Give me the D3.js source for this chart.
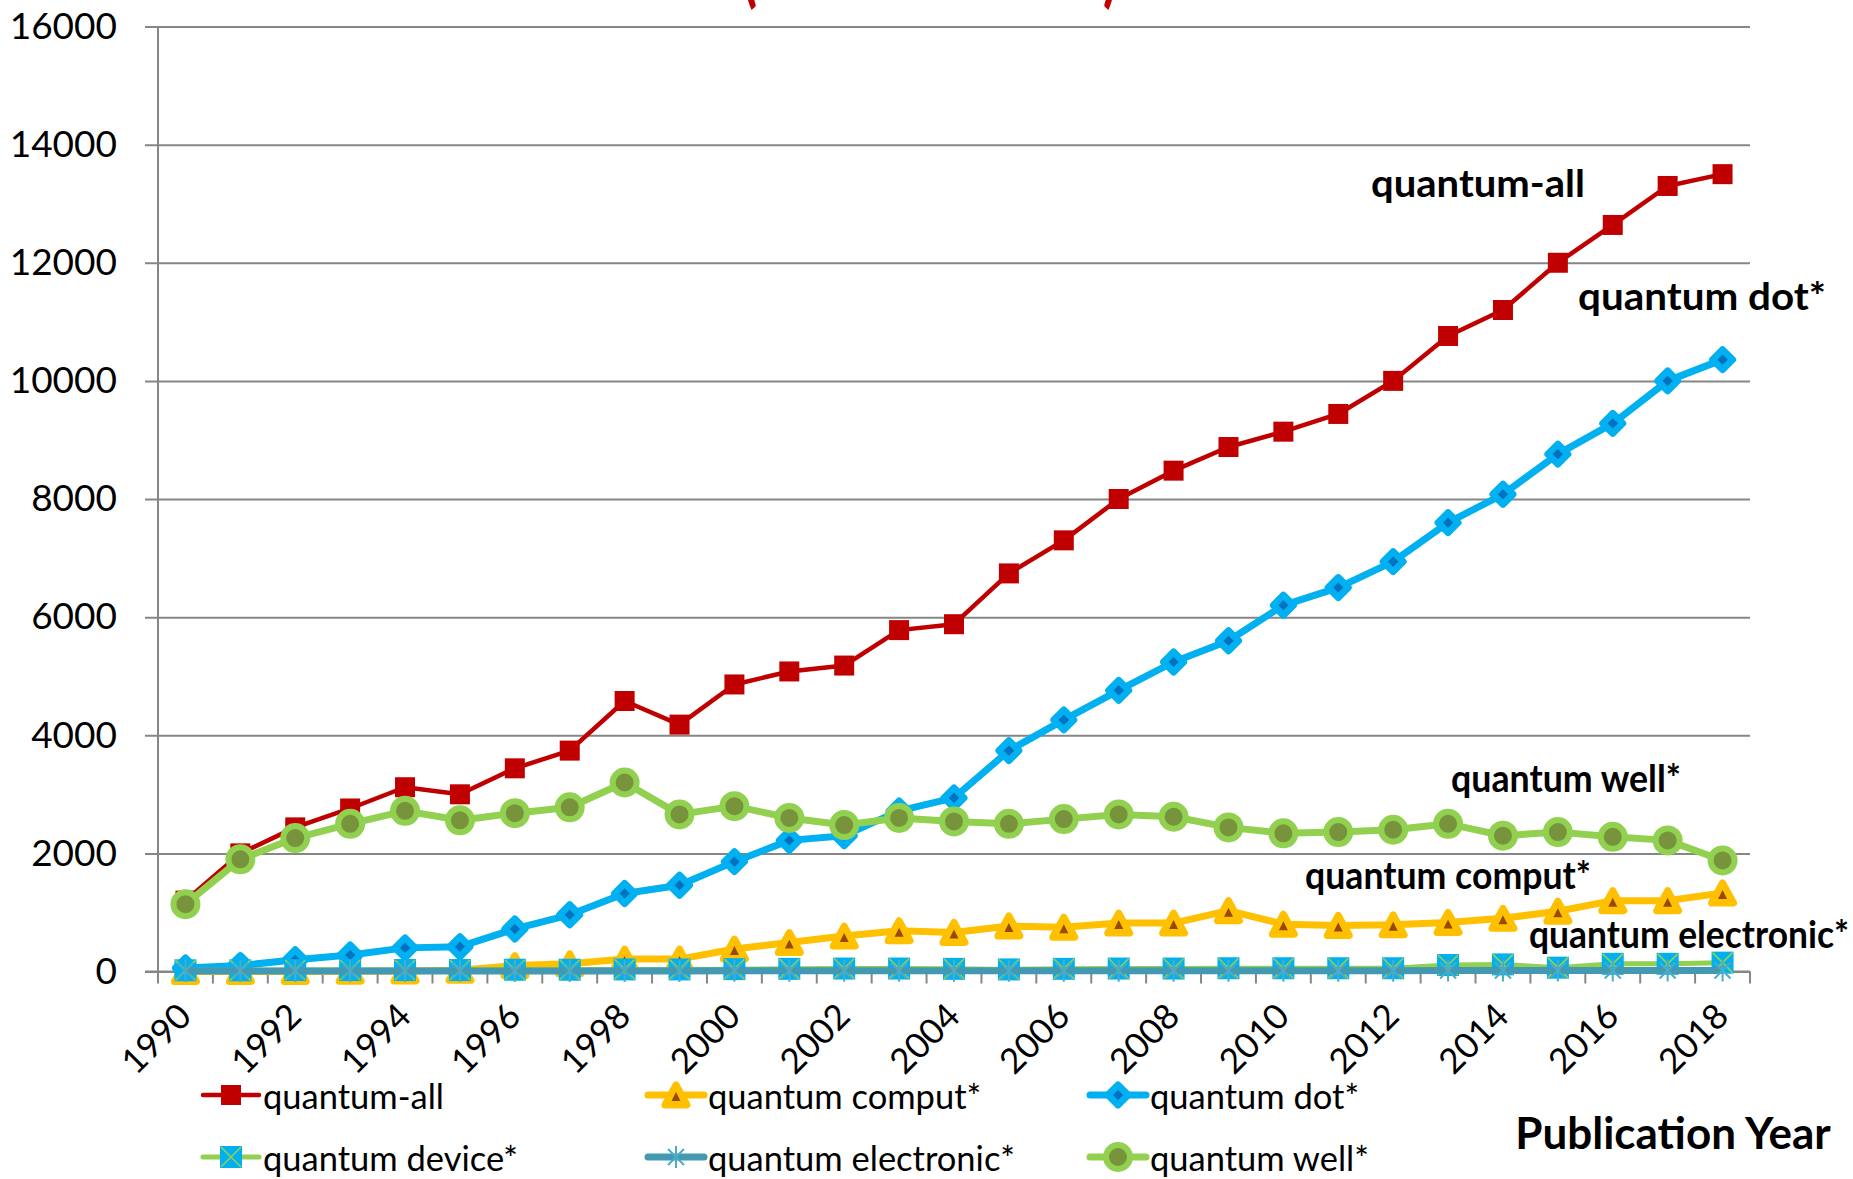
<!DOCTYPE html>
<html>
<head>
<meta charset="utf-8">
<script src="https://cdn.jsdelivr.net/npm/d3@7/dist/d3.min.js"></script>
<style>
  body { margin: 0; background: #fff; }
  svg { display: block; }
  text { font-family: Lato, "Open Sans", sans-serif; fill: #000; }
</style>
</head>
<body>
<svg id="chart" width="1853" height="1179"></svg>
<script>
// Publication counts per year for each search term
const years = [1990, 1991, 1992, 1993, 1994, 1995, 1996, 1997, 1998, 1999,
               2000, 2001, 2002, 2003, 2004, 2005, 2006, 2007, 2008, 2009,
               2010, 2011, 2012, 2013, 2014, 2015, 2016, 2017, 2018];

const quantumAll = [1200, 2000, 2440, 2760, 3120, 3000, 3440, 3740, 4580, 4180,
                    4860, 5080, 5180, 5780, 5880, 6740, 7300, 8000, 8480, 8880,
                    9140, 9440, 10000, 10760, 11200, 12000, 12640, 13300, 13500];
const quantumComput = [0, 0, 0, 5, 10, 20, 100, 130, 210, 210,
                       380, 490, 600, 690, 660, 770, 750, 820, 820, 1030,
                       800, 780, 790, 830, 900, 1020, 1200, 1200, 1330];
const quantumDot = [60, 100, 200, 280, 400, 420, 720, 960, 1320, 1460,
                    1860, 2220, 2300, 2720, 2940, 3740, 4260, 4760, 5240, 5600,
                    6200, 6500, 6940, 7600, 8080, 8760, 9280, 10000, 10360];
const quantumDevice = [20, 20, 25, 25, 25, 25, 30, 30, 35, 35,
                       40, 45, 50, 50, 45, 35, 45, 50, 50, 55,
                       55, 55, 55, 110, 120, 65, 130, 130, 150];
const quantumElectronic = [10, 10, 10, 10, 10, 10, 10, 10, 10, 10,
                           12, 12, 12, 12, 12, 12, 12, 12, 14, 14,
                           14, 14, 14, 16, 16, 16, 18, 18, 18];
const quantumWell = [1140, 1900, 2260, 2500, 2720, 2560, 2680, 2780, 3200, 2660,
                     2800, 2600, 2480, 2600, 2540, 2500, 2580, 2660, 2620, 2440,
                     2340, 2360, 2400, 2500, 2300, 2360, 2280, 2220, 1880];

const yTicks = [0, 2000, 4000, 6000, 8000, 10000, 12000, 14000, 16000];
const yearTicks = [1990, 1992, 1994, 1996, 1998, 2000, 2002, 2004, 2006,
                   2008, 2010, 2012, 2014, 2016, 2018];

const seriesNames = ["quantum-all", "quantum comput*", "quantum dot*",
                     "quantum device*", "quantum electronic*", "quantum well*"];
const seriesValues = [quantumAll, quantumComput, quantumDot,
                      quantumDevice, quantumElectronic, quantumWell];

// Drawing style for each series: line colour/width and marker kind
const styles = {
  "quantum-all":        { line: "#C00000", width: 4.5, marker: "square" },
  "quantum comput*":    { line: "#FFC000", width: 7,   marker: "triangle" },
  "quantum dot*":       { line: "#00B0F0", width: 7,   marker: "diamond" },
  "quantum device*":    { line: "#92D050", width: 5,   marker: "xbox" },
  "quantum electronic*":{ line: "#4399B1", width: 7,   marker: "star" },
  "quantum well*":      { line: "#92D050", width: 7,   marker: "circle" }
};

const svg = d3.select("#chart");
svg.append("rect").attr("width", 1853).attr("height", 1179).attr("fill", "#fff");

const plot = { left: 158, right: 1750, top: 26.5, bottom: 971.5 };

const x = d3.scaleBand().domain(years).range([plot.left, plot.right]).padding(0);
const cx = d => x(d) + x.bandwidth() / 2;
const y = d3.scaleLinear().domain([0, 16000]).range([plot.bottom, plot.top]);

// Title (sits above the top edge; only the bracket tails show)
svg.append("text")
  .attr("x", 930).attr("y", -2)
  .attr("text-anchor", "middle")
  .attr("textLength", 374).attr("lengthAdjust", "spacingAndGlyphs")
  .style("font-size", "74px").style("font-weight", 900)
  .style("fill", "#C00000")
  .text("(Web of Science)");

// Y axis with gridlines
const yAxis = d3.axisLeft(y)
  .tickValues(yTicks)
  .tickSizeInner(-(plot.right - 145))
  .tickSizeOuter(0)
  .tickPadding(28)
  .tickFormat(d3.format("d"));

const gy = svg.append("g").attr("transform", "translate(145,0)").call(yAxis);
gy.select(".domain").remove();
gy.selectAll(".tick line").attr("stroke", "#868686").attr("stroke-width", 2);
gy.selectAll(".tick text")
  .style("font-size", "37px")
  .style("font-family", "Lato, 'Open Sans', sans-serif")
  .attr("fill", "#000");

svg.append("line")
  .attr("x1", plot.left).attr("x2", plot.left)
  .attr("y1", plot.top).attr("y2", plot.bottom)
  .attr("stroke", "#868686").attr("stroke-width", 2);

// X axis: tick marks at category boundaries, every other year labelled
const gx = svg.append("g").attr("transform", `translate(0,${plot.bottom})`);
gx.append("line")
  .attr("x1", 145).attr("x2", plot.right)
  .attr("stroke", "#868686").attr("stroke-width", 2);
gx.selectAll("line.bound")
  .data(d3.range(years.length + 1))
  .join("line")
  .attr("class", "bound")
  .attr("x1", i => plot.left + i * x.step())
  .attr("x2", i => plot.left + i * x.step())
  .attr("y1", 0).attr("y2", 12)
  .attr("stroke", "#868686").attr("stroke-width", 2);

const xAxis = d3.axisBottom(x).tickValues(yearTicks).tickSize(0);
const gxl = svg.append("g").attr("transform", `translate(0,${plot.bottom})`).call(xAxis);
gxl.select(".domain").remove();
gxl.selectAll(".tick text")
  .attr("x", 0).attr("y", 0).attr("dy", null)
  .attr("text-anchor", "end")
  .attr("transform", "translate(8,47) rotate(-45)")
  .style("font-size", "35px")
  .style("font-family", "Lato, 'Open Sans', sans-serif")
  .attr("fill", "#000");

// Marker painters
function drawMarker(g, kind) {
  if (kind === "square") {
    g.append("rect").attr("x", -10).attr("y", -10).attr("width", 20).attr("height", 20)
      .attr("fill", "#C00000");
  } else if (kind === "triangle") {
    g.append("path").attr("d", "M0,-10L11,10L-11,10Z")
      .attr("fill", "#FFC000").attr("stroke", "#FFC000")
      .attr("stroke-width", 7).attr("stroke-linejoin", "round");
    g.append("path").attr("d", "M0,-3L4.5,6L-4.5,6Z").attr("fill", "#984807");
  } else if (kind === "diamond") {
    g.append("path").attr("d", "M0,-10L10,0L0,10L-10,0Z")
      .attr("fill", "#0070C0").attr("stroke", "#00B0F0")
      .attr("stroke-width", 7).attr("stroke-linejoin", "round");
  } else if (kind === "xbox") {
    g.append("rect").attr("x", -11).attr("y", -11).attr("width", 22).attr("height", 22)
      .attr("fill", "#00B0F0");
    g.append("path").attr("d", "M-10,-10L10,10M10,-10L-10,10")
      .attr("stroke", "#92D050").attr("stroke-width", 1.6);
  } else if (kind === "star") {
    g.append("path").attr("d", "M0,-11L0,11M-8,-8L8,8M8,-8L-8,8")
      .attr("stroke", "#4BACC6").attr("stroke-width", 2);
  } else if (kind === "circle") {
    g.append("circle").attr("r", 12)
      .attr("fill", "#77933C").attr("stroke", "#92D050").attr("stroke-width", 6);
  }
}

// Series: each line drawn with its markers, in series order
const line = d3.line().x(d => cx(d.year)).y(d => y(d.value));
seriesNames.forEach((name, si) => {
  const st = styles[name];
  const data = years.map((yr, i) => ({ year: yr, value: seriesValues[si][i] }));
  const g = svg.append("g").attr("class", "series");
  g.append("path").datum(data)
    .attr("d", line)
    .attr("fill", "none")
    .attr("stroke", st.line)
    .attr("stroke-width", st.width)
    .attr("stroke-linejoin", "round");
  g.selectAll("g.m").data(data).join("g")
    .attr("class", "m")
    .attr("transform", d => `translate(${cx(d.year)},${y(d.value)})`)
    .each(function () { drawMarker(d3.select(this), st.marker); });
});

// Series labels inside the plot (left edge, baseline, run length)
const seriesLabels = [
  { text: "quantum-all", x: 1371, y: 197, w: 214 },
  { text: "quantum dot*", x: 1578, y: 310, w: 248 },
  { text: "quantum well*", x: 1451, y: 792, w: 230 },
  { text: "quantum comput*", x: 1305, y: 889, w: 286 },
  { text: "quantum electronic*", x: 1529, y: 948, w: 320 }
];
svg.selectAll("text.slabel").data(seriesLabels).join("text")
  .attr("class", "slabel")
  .attr("x", d => d.x).attr("y", d => d.y)
  .attr("textLength", d => d.w).attr("lengthAdjust", "spacingAndGlyphs")
  .style("font-size", "38px").style("font-weight", 700)
  .text(d => d.text);

// Axis title
svg.append("text")
  .attr("x", 1673).attr("y", 1149)
  .attr("text-anchor", "middle")
  .style("font-size", "44px").style("font-weight", 700)
  .text("Publication Year");

// Legend: two rows of three
const legendCols = [203, 648, 1090];
const legendRows = [1095, 1157];
const order = ["quantum-all", "quantum comput*", "quantum dot*",
               "quantum device*", "quantum electronic*", "quantum well*"];
order.forEach((name, i) => {
  const st = styles[name];
  const lx = legendCols[i % 3], ly = legendRows[Math.floor(i / 3)];
  const g = svg.append("g").attr("class", "legend-item");
  g.append("line")
    .attr("x1", lx).attr("x2", lx + 56).attr("y1", ly).attr("y2", ly)
    .attr("stroke", st.line).attr("stroke-width", st.width)
    .attr("stroke-linecap", "round");
  const m = g.append("g").attr("transform", `translate(${lx + 28},${ly})`);
  drawMarker(m, st.marker);
  g.append("text")
    .attr("x", lx + 60).attr("y", ly + 14)
    .style("font-size", "34.5px")
    .text(name);
});
</script>
</body>
</html>
